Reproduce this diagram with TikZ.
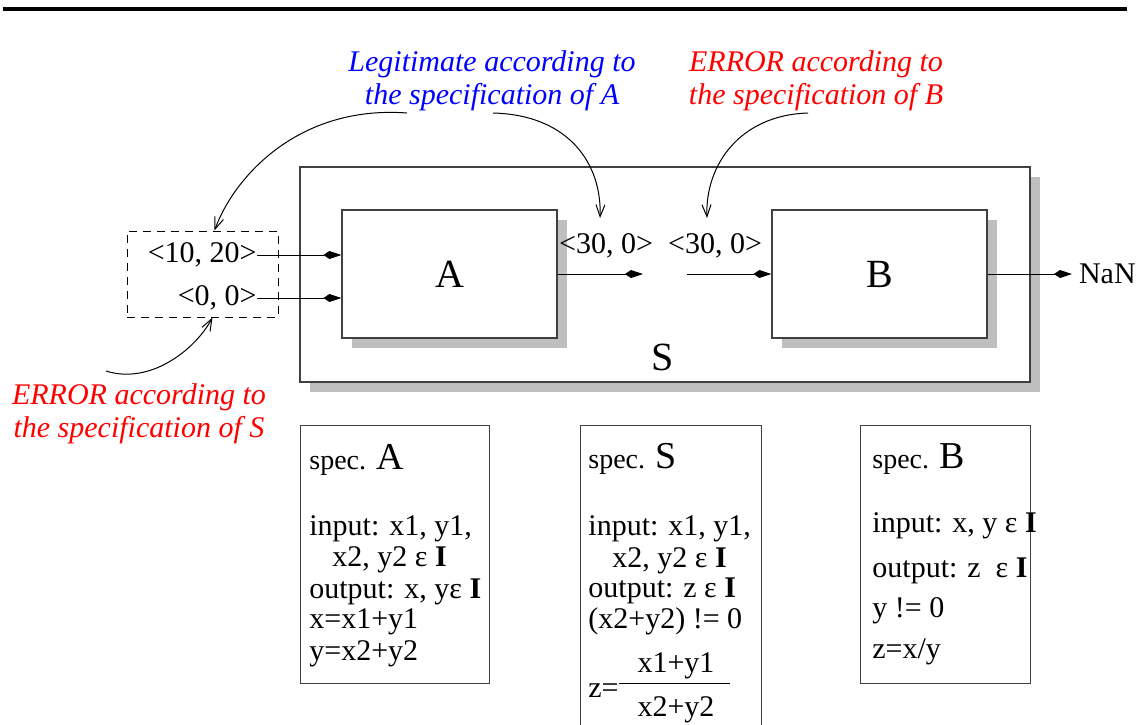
\documentclass[tikz,border=0pt]{standalone}
\usepackage{fontspec}
\setmainfont{Liberation Serif}
\usepackage{tikz}
\usetikzlibrary{arrows.meta, shadows}

\tikzset{
  blk/.style={draw=black!75, line width=0.6pt, fill=white, inner sep=0pt,
    drop shadow={shadow xshift=5pt, shadow yshift=-5pt, fill=black!25, opacity=1}},
  flow/.style={line width=0.5pt, -{Kite[length=9pt,width=4pt,inset=3pt]}},
  note/.style={line width=0.5pt, -{Straight Barb[length=6pt,width=4.5pt]}},
  specbox/.style={draw=black!75, line width=0.6pt, anchor=north west, inner sep=0pt},
  txt/.style={font=\fontsize{15}{16}\selectfont},
  ln/.style={txt, anchor=base west, inner sep=0pt},
  remark/.style={font=\fontsize{15}{16.5}\selectfont\itshape, align=center},
  big/.style={font=\fontsize{20}{20}\selectfont},
}
\newcommand{\spechead}[1]{{\fontsize{14}{14}\selectfont spec.}\hspace{5pt}{\fontsize{19}{19}\selectfont #1}}

\begin{document}
\begin{tikzpicture}[x=0.5pt, y=-0.5pt]
\useasboundingbox (0,0) rectangle (1144,724);
\draw[line width=1.9pt] (3,9) -- (1127,9);

% system S with its parts A and B
\node[blk, minimum width=365pt, minimum height=107.5pt] (sys) at (665,274.5) {};
\node[big] (slab) at (663,357) {S};
\node[blk, big, minimum width=107.5pt, minimum height=64pt] (A) at (449.5,274) {A};
\node[blk, big, minimum width=107.5pt, minimum height=64pt] (B) at (879.5,274) {B};

% inputs of S
\node[draw, dash pattern=on 4pt off 3pt, line width=0.5pt, minimum width=75.5pt, minimum height=43pt] (inbox) at (202.5,274) {};
\node[txt, anchor=east, inner sep=0pt] (v1) at (257,255) {<10, 20>};
\node[txt, anchor=east, inner sep=0pt] (v2) at (257,298) {<0, 0>};
\draw[flow] (v1.east) -- (v1.east -| A.west);
\draw[flow] (v2.east) -- (v2.east -| A.west);

% between A and B
\coordinate (aout) at (643,274);
\coordinate (bin) at (687,274);
\draw[flow] (A.east) -- (aout);
\draw[flow] (bin) -- (B.west);
\node[txt, anchor=base] (r1) at (606,253) {<30, 0>};
\node[txt, anchor=base] (r2) at (715,253) {<30, 0>};

% output of S
\node[txt, anchor=west] (nan) at (1072,274) {NaN};
\draw[flow] (B.east) -- (nan.west);

% remarks
\node[remark, text=blue] (legit) at (492,81) {Legitimate according to\\the specification of A};
\node[remark, text=red] (errb) at (816,81) {ERROR according to\\the specification of B};
\node[remark, text=red] (errs) at (139,414) {ERROR according to\\the specification of S};

\coordinate (p1) at (407,113);
\coordinate (p2) at (493,113);
\coordinate (p3) at (808,113);
\coordinate (p4) at (106,371);
\coordinate (q2) at (600,218);
\coordinate (q3) at (707,218);
\draw[note] (p1) .. controls (300,105) and (235,175) .. ([xshift=6pt]inbox.north);
\draw[note] (p2) .. controls (570,115) and (602,165) .. (q2);
\draw[note] (p3) .. controls (740,115) and (705,165) .. (q3);
\draw[note] (p4) .. controls (150,385) and (195,350) .. ([xshift=5pt]inbox.south);

% specifications
\node[specbox, minimum width=94.5pt, minimum height=129pt] (specA) at (300,425) {};
\node[ln] (a0) at (309,469) {\spechead{A}};
\node[ln] (a1) at (309,535) {input: x1, y1,};
\node[ln] (a2) at (332,566) {x2, y2 ε \textbf{I}};
\node[ln] (a3) at (309,598) {output: x, yε \textbf{I}};
\node[ln] (a4) at (309,628) {x=x1+y1};
\node[ln] (a5) at (309,660) {y=x2+y2};

\node[specbox, minimum width=90.5pt, minimum height=160pt] (specS) at (580,425) {};
\node[ln] (s0) at (588,468) {\spechead{S}};
\node[ln] (s1) at (588,535) {input: x1, y1,};
\node[ln] (s2) at (612,567) {x2, y2 ε \textbf{I}};
\node[ln] (s3) at (588,597) {output: z ε \textbf{I}};
\node[ln] (s4) at (588,628) {(x2+y2) != 0};
\node[ln] (s5) at (588,697) {z=};
\node[ln, anchor=base] (s6) at (676,672) {x1+y1};
\node[ln, anchor=base] (s7) at (676,716) {x2+y2};
\draw[line width=0.5pt] (s5.east |- 0,683) -- (730,683);

\node[specbox, minimum width=85pt, minimum height=129pt] (specB) at (860,425) {};
\node[ln] (b0) at (872,468) {\spechead{B}};
\node[ln] (b1) at (872,532) {input: x, y ε \textbf{I}};
\node[ln] (b2) at (872,577) {output: z \ ε \textbf{I}};
\node[ln] (b3) at (872,617) {y != 0};
\node[ln] (b4) at (872,658) {z=x/y};
\end{tikzpicture}
\end{document}
